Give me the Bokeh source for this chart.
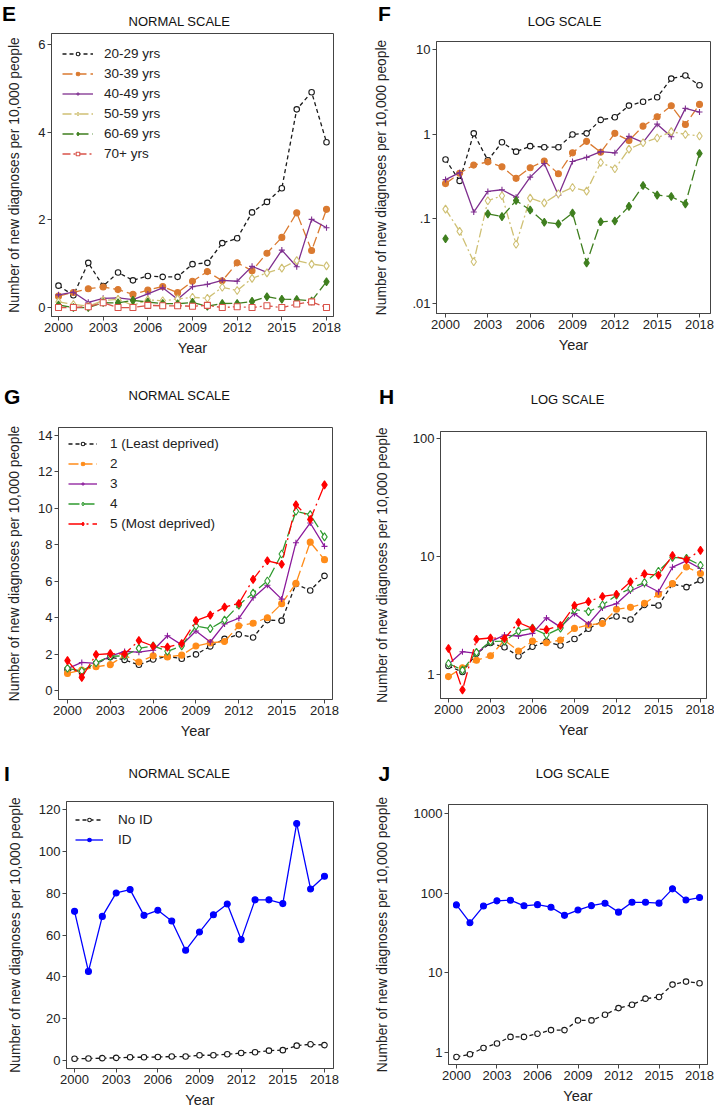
from bokeh.plotting import figure
from bokeh.layouts import column, row
from bokeh.models import Range1d, FixedTicker
from bokeh.core.properties import value
from bokeh.embed import file_html
from bokeh.resources import INLINE

# ---------------- data ----------------
years = list(range(2000, 2019))
x_ticks = [2000, 2003, 2006, 2009, 2012, 2015, 2018]

age_labels = ["20-29 yrs", "30-39 yrs", "40-49 yrs", "50-59 yrs", "60-69 yrs", "70+ yrs"]
age_20_29 = [0.50, 0.28, 1.02, 0.49, 0.80, 0.62, 0.72, 0.70, 0.70, 0.99, 1.02, 1.47, 1.58, 2.17, 2.41, 2.72, 4.52, 4.91, 3.77]
age_30_39 = [0.26, 0.345, 0.43, 0.47, 0.41, 0.30, 0.40, 0.48, 0.34, 0.60, 0.82, 0.61, 1.02, 0.84, 1.24, 1.60, 2.16, 1.30, 2.24]
age_40_49 = [0.29, 0.35, 0.12, 0.21, 0.22, 0.18, 0.31, 0.45, 0.19, 0.475, 0.53, 0.62, 0.60, 0.94, 0.80, 1.31, 0.93, 2.01, 1.82]
age_50_59 = [0.13, 0.071, 0.031, 0.163, 0.187, 0.050, 0.175, 0.154, 0.197, 0.234, 0.212, 0.462, 0.389, 0.665, 0.79, 0.90, 1.07, 0.99, 0.95]
age_60_69 = [0.058, 0.0, 0.0, 0.114, 0.106, 0.164, 0.127, 0.091, 0.087, 0.117, 0.030, 0.092, 0.094, 0.14, 0.247, 0.19, 0.183, 0.15, 0.59]
age_70_plus = [0.0, 0.0, 0.02, 0.11, 0.0, 0.0, 0.05, 0.04, 0.04, 0.03, 0.05, 0.0, 0.02, 0.0, 0.04, 0.0, 0.08, 0.13, 0.0]

dep_labels = ["1 (Least deprived)", "2", "3", "4", "5 (Most deprived)"]
dep_1 = [1.18, 1.05, 1.50, 1.85, 1.70, 1.43, 1.72, 1.90, 1.76, 2.00, 2.44, 2.85, 3.10, 2.93, 3.88, 3.85, 5.86, 5.50, 6.30]
dep_2 = [0.96, 1.14, 1.32, 1.44, 1.95, 1.58, 1.92, 1.86, 1.96, 2.46, 2.63, 2.71, 3.57, 3.71, 4.01, 4.78, 5.89, 8.15, 7.19]
dep_3 = [1.22, 1.56, 1.51, 1.90, 2.16, 2.12, 2.23, 3.02, 2.52, 3.28, 2.68, 3.67, 3.98, 5.10, 5.79, 5.03, 8.12, 9.20, 7.92]
dep_4 = [1.24, 1.09, 1.54, 1.90, 1.92, 2.33, 2.47, 2.17, 2.47, 3.56, 3.41, 3.88, 4.70, 5.36, 6.02, 7.50, 9.84, 9.66, 8.44]
dep_5 = [1.66, 0.74, 1.99, 2.04, 2.02, 2.76, 2.45, 2.40, 2.60, 3.85, 4.15, 4.59, 4.79, 6.11, 7.13, 6.94, 10.20, 9.39, 11.29]

id_labels = ["No ID", "ID"]
no_id = [0.88, 0.95, 1.14, 1.30, 1.57, 1.57, 1.72, 1.91, 1.91, 2.53, 2.53, 2.98, 3.61, 3.98, 4.74, 4.97, 7.12, 7.76, 7.39]
with_id = [71.3, 42.6, 68.9, 80.1, 81.7, 69.4, 71.8, 66.7, 52.7, 61.4, 69.7, 74.8, 57.8, 76.8, 76.8, 75.0, 113.3, 82.0, 88.1]

FONT = "Liberation Sans"
YLAB = "Number of new diagnoses per 10,000 people"

# series styles: color, dash, marker, size, hollow
age_styles = [
    ("#1a1a1a", "4 3", "circle", 5.5, True),
    ("#da7a30", "10 4", "circle", 6, False),
    ("#7f2f8f", "solid", "cross", 6, False),
    ("#cfc074", "9 3 2 3", "diamond", 8, True),
    ("#3f7f1f", "11 4", "diamond", 8, False),
    ("#d9534a", "8 3 2 3", "square", 6, True),
]
dep_styles = [
    ("#1a1a1a", "4 3", "circle", 5.5, True),
    ("#ff8c1a", "10 4", "circle", 6, False),
    ("#8b1a9b", "solid", "cross", 6, False),
    ("#2f9a2f", "11 4", "diamond", 8, True),
    ("#ff0000", "14 4 2 4", "diamond", 8, False),
]
id_styles = [
    ("#1a1a1a", "4 3", "circle", 5.5, True),
    ("#0000ff", "solid", "circle", 6, False),
]

W = 357


def positive(vals):
    return [v if v > 0 else float("nan") for v in vals]


def make_header(h, letter, lx, ly, title, tx, ty):
    p = figure(width=W, height=h, title=None, x_range=Range1d(0, W), y_range=Range1d(h, 0),
               output_backend="svg", toolbar_location=None, min_border=0,
               x_axis_location=None, y_axis_location=None, frame_align=False)
    p.grid.visible = False
    p.outline_line_color = None
    p.background_fill_color = "white"
    p.border_fill_color = "white"
    p.text(x=[lx], y=[ly], text=[letter], text_font=value(FONT), text_font_size="21px",
           text_font_style="bold", text_align="left", text_baseline="middle", text_color="black")
    p.text(x=[tx], y=[ty], text=[title], text_font=value(FONT), text_font_size="13px",
           text_align="center", text_baseline="middle", text_color="#111111")
    return p


def make_panel(spec):
    fh = spec["height"] - spec["top"] - spec["bottom"]
    p = figure(
        width=W, height=spec["height"], title=None,
        x_range=Range1d(*spec["xr"]), y_range=Range1d(*spec["yr"]),
        y_axis_type="log" if spec["log"] else "linear",
        output_backend="svg", toolbar_location=None, frame_align=False,
        min_border_left=spec["left"], min_border_right=spec["right"],
        min_border_top=spec["top"], min_border_bottom=spec["bottom"],
    )
    p.background_fill_color = "white"
    p.border_fill_color = "white"
    p.outline_line_color = "#444444"
    p.outline_line_width = 1
    p.xgrid.grid_line_color = None
    p.ygrid.grid_line_color = None
    p.xaxis.ticker = FixedTicker(ticks=x_ticks)
    p.yaxis.ticker = FixedTicker(ticks=spec["yticks"])
    if spec.get("ylabels"):
        p.yaxis.major_label_overrides = spec["ylabels"]
    p.xaxis.axis_label = "Year"
    p.yaxis.axis_label = YLAB
    for ax in p.axis:
        ax.axis_line_color = "#444444"
        ax.major_tick_line_color = "#444444"
        ax.major_tick_out = 4
        ax.major_tick_in = 0
        ax.minor_tick_line_color = None
        ax.major_label_text_font = FONT
        ax.major_label_text_font_size = "13px"
        ax.major_label_text_color = "#222222"
        ax.axis_label_text_font = FONT
        ax.axis_label_text_font_style = "normal"
        ax.axis_label_text_color = "#222222"
    p.xaxis.major_label_standoff = 2
    p.xaxis.axis_label_standoff = 5
    p.xaxis.axis_label_text_font_size = "14.5px"
    p.yaxis.major_label_standoff = 2
    p.yaxis.axis_label_standoff = spec["ystand"]
    p.yaxis.axis_label_text_font_size = "13.8px"

    for vals, lab, st in spec["series"]:
        color, dash, marker, size, hollow = st
        ys = positive(vals) if spec["log"] else vals
        kw = {"legend_label": lab} if spec["legend"] else {}
        p.line(years, ys, line_color=color, line_dash=dash, line_width=1.3, **kw)
        p.scatter(years, ys, marker=marker, size=size, line_color=color,
                  fill_color="white" if hollow else color, line_width=1.1, **kw)

    if spec["legend"]:
        gx, gtop, gw, standoff = spec["lg"]
        n = len(spec["series"])
        lg = p.legend[0]
        # legend box: left edge gx px from frame left, top edge gtop px below frame top
        lg.location = (gx, fh - gtop - 20 * n)
        lg.border_line_color = None
        lg.background_fill_alpha = 0
        lg.label_text_font = FONT
        lg.label_text_font_size = "13.5px"
        lg.label_text_color = "#222222"
        lg.glyph_width = gw
        lg.glyph_height = 9
        lg.label_height = 20
        lg.spacing = 0
        lg.label_standoff = standoff
        lg.padding = 0
        lg.margin = 0
    return p


specs = [
    dict(height=330, left=51, right=24, top=5, bottom=42, log=False,
         xr=(1999.53, 2018.47), yr=(-0.204, 6.25), yticks=[0, 2, 4, 6], ystand=13,
         series=list(zip([age_20_29, age_30_39, age_40_49, age_50_59, age_60_69, age_70_plus], age_labels, age_styles)),
         legend=True, lg=(11, 10, 31, 11)),
    dict(height=330, left=79, right=4, top=13, bottom=45, log=True,
         xr=(1999.36, 2018.78), yr=(0.0076, 12.4), yticks=[0.01, 0.1, 1, 10],
         ylabels={0.01: ".01", 0.1: ".1", 1: "1", 10: "10"}, ystand=20,
         series=list(zip([age_20_29, age_30_39, age_40_49, age_50_59, age_60_69], age_labels, age_styles)),
         legend=False),
    dict(height=331, left=58, right=25, top=17, bottom=41, log=False,
         xr=(1999.37, 2018.56), yr=(-0.47, 14.43), yticks=list(range(0, 15, 2)), ystand=13,
         series=list(zip([dep_1, dep_2, dep_3, dep_4, dep_5], dep_labels, dep_styles)),
         legend=True, lg=(10, 7, 29, 13)),
    dict(height=331, left=83, right=8, top=21, bottom=43, log=True,
         xr=(1999.43, 2018.43), yr=(0.626, 114.8), yticks=[1, 10, 100],
         ylabels={1: "1", 10: "10", 100: "100"}, ystand=20,
         series=list(zip([dep_1, dep_2, dep_3, dep_4, dep_5], dep_labels, dep_styles)),
         legend=False),
    dict(height=317, left=66, right=24, top=8, bottom=42, log=False,
         xr=(1999.42, 2018.65), yr=(-3.8, 123.8), yticks=list(range(0, 121, 20)), ystand=13,
         series=list(zip([no_id, with_id], id_labels, id_styles)),
         legend=True, lg=(9, 8, 28, 15)),
    dict(height=317, left=91, right=7, top=11, bottom=46, log=True,
         xr=(1999.41, 2018.59), yr=(0.707, 1298), yticks=[1, 10, 100, 1000],
         ylabels={1: "1", 10: "10", 100: "100", 1000: "1000"}, ystand=21,
         series=list(zip([no_id, with_id], id_labels, id_styles)),
         legend=False),
]

headers = [
    make_header(28, "E", 1.5, 12.5, "NORMAL SCALE", 179, 21),
    make_header(28, "F", 20.5, 12.5, "LOG SCALE", 207, 21),
    make_header(52, "G", 3.5, 37.5, "NORMAL SCALE", 179, 37),
    make_header(52, "H", 21.5, 38, "LOG SCALE", 210, 41),
    make_header(52, "I", 3.5, 32, "NORMAL SCALE", 179, 32),
    make_header(52, "J", 21, 32, "LOG SCALE", 215, 32),
]

figs = [make_panel(s) for s in specs]
layout = column(
    row(headers[0], headers[1]), row(figs[0], figs[1]),
    row(headers[2], headers[3]), row(figs[2], figs[3]),
    row(headers[4], headers[5]), row(figs[4], figs[5]),
)

open("out.html", "w").write(file_html(layout, INLINE))
